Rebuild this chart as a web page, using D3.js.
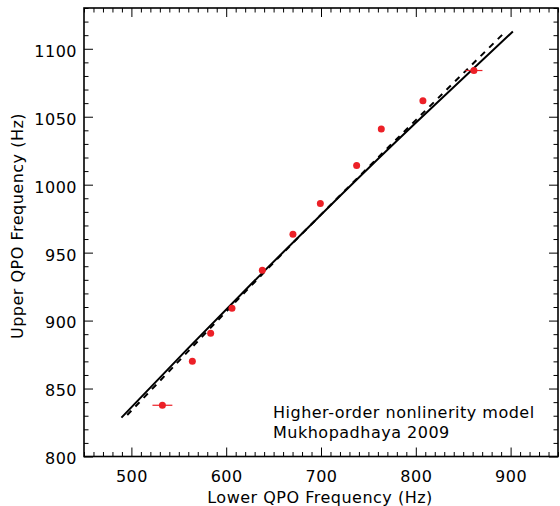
<!DOCTYPE html>
<html><head><meta charset="utf-8">
<script src="https://cdn.jsdelivr.net/npm/d3@7"></script>
<style>body{margin:0;background:#fff}svg{display:block}text{font-family:"DejaVu Sans",sans-serif;fill:#000;letter-spacing:0.5px}</style>
</head><body><svg id="c" width="560" height="506"></svg>
<script>
// Data
const lowerQPO = [532.7, 564.3, 583.6, 606.1, 638.1, 670.4, 699.3, 737.6, 763.6, 807.5, 861.3];
const upperQPO = [837.7, 870.1, 890.7, 909.1, 937.1, 963.6, 986.1, 1014.1, 1040.9, 1061.7, 1084.0];
const lowerErr = [10.5, 0, 0, 0, 0, 0, 0, 0, 0, 0, 9];
const modelSolidX = [489.5, 560, 640, 720, 800, 902.4];
const modelSolidY = [828.6, 879.7, 936.4, 991.7, 1045.6, 1112.7];
const modelDashX = [495.6, 560, 640, 720, 800, 895.4];
const modelDashY = [830.5, 877.5, 935.5, 992.0, 1047.5, 1113.2];
const xMajorTicks = [500, 600, 700, 800, 900];
const yMajorTicks = [800, 850, 900, 950, 1000, 1050, 1100];
const xLabel = "Lower QPO Frequency (Hz)";
const yLabel = "Upper QPO Frequency (Hz)";
const noteLines = ["Higher-order nonlinerity model", "Mukhopadhaya 2009"];

const L = 84, R = 558, T = 8, B = 456.5;
const svg = d3.select("#c");
const x = d3.scaleLinear().domain([450, 950]).range([L, R]);
const y = d3.scaleLinear().domain([800, 1130]).range([B, T]);
const xMinor = d3.range(450, 951, 10).filter(v => v % 100 !== 0);
const yMinor = d3.range(800, 1131, 10).filter(v => v % 50 !== 0);
const FS = 16;

function styleAxis(g) {
  g.select(".domain").remove();
  g.selectAll("line").attr("stroke", "#000").attr("stroke-width", 1);
  g.selectAll("text").attr("font-size", FS).attr("font-family", "DejaVu Sans");
}
// bottom
svg.append("g").attr("transform", `translate(0,${B})`)
  .call(d3.axisBottom(x).tickValues(xMajorTicks).tickSize(-9).tickPadding(14).tickFormat(d3.format("d"))).call(styleAxis);
svg.append("g").attr("transform", `translate(0,${B})`)
  .call(d3.axisBottom(x).tickValues(xMinor).tickSize(-4.5).tickFormat("")).call(styleAxis);
// top
svg.append("g").attr("transform", `translate(0,${T})`)
  .call(d3.axisTop(x).tickValues(xMajorTicks).tickSize(-9).tickFormat("")).call(styleAxis);
svg.append("g").attr("transform", `translate(0,${T})`)
  .call(d3.axisTop(x).tickValues(xMinor).tickSize(-4.5).tickFormat("")).call(styleAxis);
// left
svg.append("g").attr("transform", `translate(${L},0)`)
  .call(d3.axisLeft(y).tickValues(yMajorTicks).tickSize(-9).tickPadding(7).tickFormat(d3.format("d"))).call(styleAxis)
  .selectAll("text").attr("dy", "0.46em");
svg.append("g").attr("transform", `translate(${L},0)`)
  .call(d3.axisLeft(y).tickValues(yMinor).tickSize(-4.5).tickFormat("")).call(styleAxis);
// right
svg.append("g").attr("transform", `translate(${R},0)`)
  .call(d3.axisRight(y).tickValues(yMajorTicks).tickSize(-9).tickFormat("")).call(styleAxis);
svg.append("g").attr("transform", `translate(${R},0)`)
  .call(d3.axisRight(y).tickValues(yMinor).tickSize(-4.5).tickFormat("")).call(styleAxis);

svg.append("rect").attr("x", L).attr("y", T).attr("width", R - L).attr("height", B - T)
  .attr("fill", "none").attr("stroke", "#000").attr("stroke-width", 1.6);

// model curves
const line = d3.line().x(d => x(d[0])).y(d => y(d[1])).curve(d3.curveNatural);
svg.append("path").datum(modelSolidX.map((v, i) => [v, modelSolidY[i]]))
  .attr("d", line).attr("fill", "none").attr("stroke", "#000").attr("stroke-width", 2);
svg.append("path").datum(modelDashX.map((v, i) => [v, modelDashY[i]]))
  .attr("d", line).attr("fill", "none").attr("stroke", "#000").attr("stroke-width", 2)
  .attr("stroke-dasharray", "6,6");

// data
const pts = lowerQPO.map((v, i) => ({x: v, y: upperQPO[i], e: lowerErr[i]}));
svg.append("g").selectAll("line").data(pts.filter(d => d.e > 0)).join("line")
  .attr("x1", d => x(d.x - d.e)).attr("x2", d => x(d.x + d.e))
  .attr("y1", d => y(d.y)).attr("y2", d => y(d.y))
  .attr("stroke", "#ec2027").attr("stroke-width", 1.2);
svg.append("g").selectAll("circle").data(pts).join("circle")
  .attr("cx", d => x(d.x)).attr("cy", d => y(d.y)).attr("r", 3.5).attr("fill", "#ec2027");

// labels
svg.append("text").attr("x", 320).attr("y", 503).attr("text-anchor", "middle").attr("font-size", FS).text(xLabel);
svg.append("text").attr("transform", "translate(23,226) rotate(-90)").attr("text-anchor", "middle").attr("font-size", FS).text(yLabel);
svg.append("g").selectAll("text").data(noteLines).join("text")
  .attr("x", 273).attr("y", (d, i) => 418 + i * 20).attr("font-size", FS).text(d => d);
</script></body></html>
